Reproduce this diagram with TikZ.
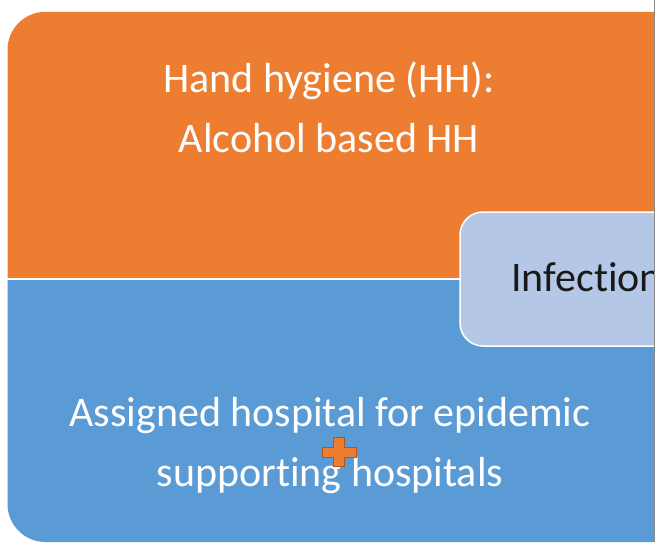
\documentclass[tikz,border=0pt]{standalone}
\usepackage{fontspec}
\setmainfont[Ligatures=NoCommon]{Carlito}
\definecolor{orangeA}{HTML}{ED7D31}
\definecolor{orangeD}{HTML}{B0561F}
\definecolor{blueA}{HTML}{5B9BD5}
\definecolor{blueL}{HTML}{B4C7E7}
\definecolor{edgegrey}{HTML}{8A8A8A}
\tikzset{
  bigtext/.style={font=\fontsize{42}{60}\selectfont, inner sep=0pt, anchor=base},
  whitetext/.style={bigtext, text=white},
}
\begin{document}
\begin{tikzpicture}[x=1pt,y=-1pt]
\useasboundingbox (0,0) rectangle (655,542);
\begin{scope}
\clip (0,0) rectangle (654,542);
% orange block
\fill[orangeA] (7.5,277.8) [rounded corners=38pt] -- (7.5,11.8) -- (700,11.8) [sharp corners] -- (700,277.8) -- cycle;
% blue block
\fill[blueA] (7.5,280) [rounded corners=38pt] -- (7.5,542) -- (700,542) [sharp corners] -- (700,280) -- cycle;
% infection box
\draw[blueL, fill=blueL] (460,212) [rounded corners=23pt] -- (460,346) -- (720,346) -- (720,212) -- cycle;
\draw[white, line width=1.5pt, rounded corners=23pt] (460,212) -- (460,346) -- (720,346) -- (720,212) -- cycle;
\node[bigtext, anchor=base west, text=black!90] (inf) at (511,291) {Infection};
\end{scope}
\draw[edgegrey, line width=1.2pt] (654.4,0) -- (654.4,542);
% texts
\node[whitetext] (t1) at (329,92) {Hand hygiene (HH):};
\node[whitetext] (t2) at (329,152) {Alcohol based HH};
\node[whitetext] (b1) at (330,426) {Assigned hospital for epidemic};
\node[whitetext] (b2) at (330,486) {supporting hospitals};
% plus sign
\draw[orangeD, fill=orangeA, line width=0.8pt]
  (333,437) -- (344,437) -- (344,447.3) -- (356,447.3) -- (356,457.3) -- (344,457.3)
  -- (344,466) -- (333,466) -- (333,457.3) -- (322,457.3) -- (322,447.3) -- (333,447.3) -- cycle;
\end{tikzpicture}
\end{document}
